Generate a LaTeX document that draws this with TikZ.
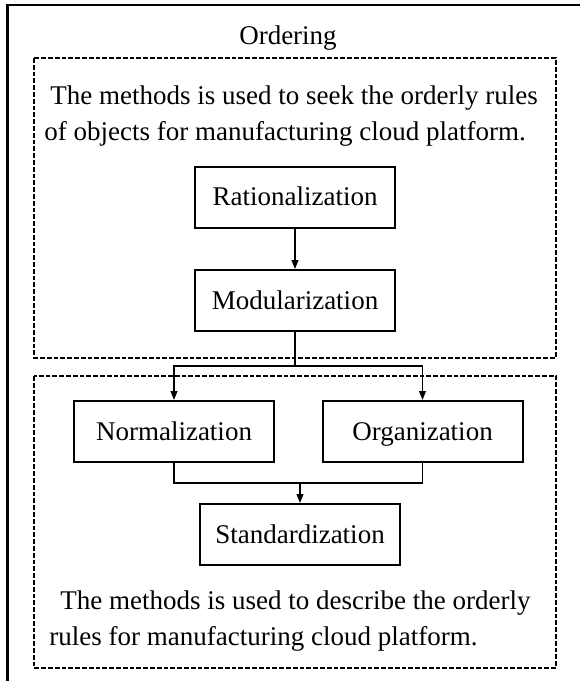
\documentclass[tikz,border=0pt]{standalone}
\usepackage{fontspec}
\setmainfont{Liberation Serif}
\usepackage{tikz}
\usetikzlibrary{arrows.meta,positioning,calc}

\begin{document}
\begin{tikzpicture}[
    x=0.5pt, y=-0.5pt,
    font=\fontsize{13.5}{17.8}\selectfont,
    box/.style={rectangle, draw=black, fill=white, line width=1pt, minimum width=100pt, minimum height=30.5pt, inner sep=0pt, text height=10.5pt, text depth=2pt},
    region/.style={draw=black, line width=0.8pt, dash pattern=on 2.4pt off 1pt},
    note/.style={align=left, inner sep=0pt, anchor=west},
    arrow/.style={-{Triangle[length=4.5pt,width=3.4pt]}, line width=0.8pt},
    joint/.style={line width=0.8pt}
]
\useasboundingbox (0,0) rectangle (580,681);

% outer frame, only top and left edge show
\draw[line width=1.1pt] (580,5) -| (7.5,681);

\node (title) at (288,38) {Ordering};

% the two dashed groups
\draw[region] (34,58) rectangle (556,358);
\draw[region] (34,376) rectangle (556,668);

\node[note] (seek) at (44,116) {\hspace*{3pt}The methods is used to seek the orderly rules\\of objects for manufacturing cloud platform.};
\node[note] (describe) at (49,621) {\hspace*{5.5pt}The methods is used to describe the orderly\\rules for manufacturing cloud platform.};

\node[box] (rat) at (295,197) {Rationalization};
\node[box] (mod) at (295,300.5) {Modularization};
\node[box] (norm) at (174,431.5) {Normalization};
\node[box] (org) at (422.5,431.5) {Organization};
\node[box] (std) at (300,534.5) {Standardization};

\coordinate (split) at (295,366);
\coordinate (join) at (300,483);

\draw[arrow] (rat) -- (mod);
\draw[joint] (mod) -- (split);
\draw[arrow] (split) -| (norm);
\draw[arrow] (split) -| (org);
\draw[joint] (norm) |- (join) -| (org);
\draw[arrow] (join) -- (std);
\end{tikzpicture}
\end{document}
